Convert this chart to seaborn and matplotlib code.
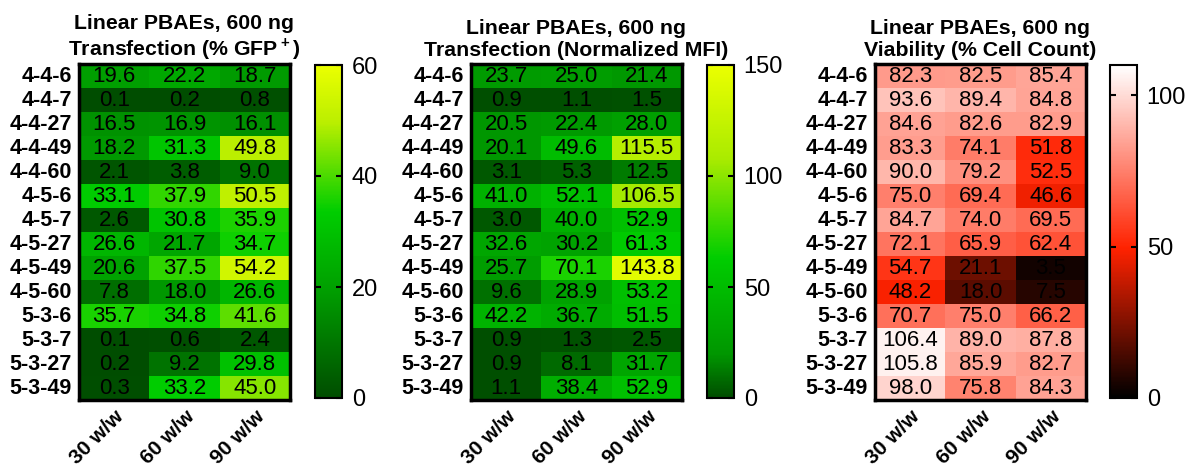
import matplotlib
matplotlib.use("Agg")
import matplotlib.pyplot as plt
import numpy as np
import pandas as pd
import seaborn as sns
from matplotlib.colors import LinearSegmentedColormap

polymers = ["4-4-6", "4-4-7", "4-4-27", "4-4-49", "4-4-60", "4-5-6", "4-5-7",
            "4-5-27", "4-5-49", "4-5-60", "5-3-6", "5-3-7", "5-3-27", "5-3-49"]
ratios = ["30 w/w", "60 w/w", "90 w/w"]

gfp_30 = [19.6, 0.1, 16.5, 18.2, 2.1, 33.1, 2.6, 26.6, 20.6, 7.8, 35.7, 0.1, 0.2, 0.3]
gfp_60 = [22.2, 0.2, 16.9, 31.3, 3.8, 37.9, 30.8, 21.7, 37.5, 18.0, 34.8, 0.6, 9.2, 33.2]
gfp_90 = [18.7, 0.8, 16.1, 49.8, 9.0, 50.5, 35.9, 34.7, 54.2, 26.6, 41.6, 2.4, 29.8, 45.0]

mfi_30 = [23.7, 0.9, 20.5, 20.1, 3.1, 41.0, 3.0, 32.6, 25.7, 9.6, 42.2, 0.9, 0.9, 1.1]
mfi_60 = [25.0, 1.1, 22.4, 49.6, 5.3, 52.1, 40.0, 30.2, 70.1, 28.9, 36.7, 1.3, 8.1, 38.4]
mfi_90 = [21.4, 1.5, 28.0, 115.5, 12.5, 106.5, 52.9, 61.3, 143.8, 53.2, 51.5, 2.5, 31.7, 52.9]

via_30 = [82.3, 93.6, 84.6, 83.3, 90.0, 75.0, 84.7, 72.1, 54.7, 48.2, 70.7, 106.4, 105.8, 98.0]
via_60 = [82.5, 89.4, 82.6, 74.1, 79.2, 69.4, 74.0, 65.9, 21.1, 18.0, 75.0, 89.0, 85.9, 75.8]
via_90 = [85.4, 84.8, 82.9, 51.8, 52.5, 46.6, 69.5, 62.4, 3.5, 7.5, 66.2, 87.8, 82.7, 84.3]

greens_gfp = LinearSegmentedColormap.from_list(
    "gfp", [(0, "#004d00"), (0.33, "#00a000"), (0.56, "#00cd00"),
            (0.83, "#bbef00"), (1, "#ebff00")])
greens_mfi = LinearSegmentedColormap.from_list(
    "mfi", [(0, "#004d00"), (0.13, "#009600"), (0.42, "#00cd00"),
            (0.72, "#aaeb00"), (1, "#ebff00")])
reds = LinearSegmentedColormap.from_list(
    "via", [(0, "#000000"), (0.45, "#ff2200"), (1, "#ffffff")])

panels = [
    ("Linear PBAEs, 600 ng\nTransfection (% GFP$^{\\bf +}$)", [gfp_30, gfp_60, gfp_90],
     greens_gfp, 60, [0, 20, 40, 60]),
    ("Linear PBAEs, 600 ng\nTransfection (Normalized MFI)", [mfi_30, mfi_60, mfi_90],
     greens_mfi, 150, [0, 50, 100, 150]),
    ("Linear PBAEs, 600 ng\nViability (% Cell Count)", [via_30, via_60, via_90],
     reds, 110, [0, 50, 100]),
]

plt.rcParams["font.family"] = ["Liberation Sans", "DejaVu Sans"]
plt.rcParams["mathtext.fontset"] = "custom"
plt.rcParams["mathtext.bf"] = "Liberation Sans:bold"
plt.rcParams["mathtext.rm"] = "Liberation Sans"
fig = plt.figure(figsize=(11.87, 4.72), dpi=100)

W, H = 1187, 472
hm_left = [79, 471, 875]
cb_left = [315, 707, 1110]
top, bottom = 64, 400

for i, (title, cols, cmap, vmax, cticks) in enumerate(panels):
    ax = fig.add_axes([hm_left[i] / W, 1 - bottom / H, 211 / W, (bottom - top) / H])
    cax = fig.add_axes([cb_left[i] / W, 1 - 398 / H, 27 / W, (398 - 65) / H])
    df = pd.DataFrame(np.array(cols).T, index=polymers, columns=ratios)
    sns.heatmap(df, ax=ax, cmap=cmap, vmin=0, vmax=vmax, annot=True, fmt=".1f",
                annot_kws={"color": "black", "fontsize": 16}, cbar_ax=cax)
    ax.set_title(title, fontsize=15.3, fontweight="bold", pad=6, linespacing=1.15)
    ax.tick_params(length=0, pad=5)
    ax.set_yticklabels(ax.get_yticklabels(), rotation=0, fontsize=15.5, fontweight="bold")
    ax.set_xticklabels(ax.get_xticklabels(), rotation=45, ha="right",
                       rotation_mode="anchor", fontsize=15, fontweight="bold")
    ax.tick_params(axis="x", pad=5)
    for s in ax.spines.values():
        s.set_visible(True)
        s.set_linewidth(2.5)
        s.set_color("black")
    cbar = ax.collections[0].colorbar
    cbar.set_ticks(cticks)
    cbar.outline.set_linewidth(1.5)
    cax.tick_params(labelsize=17, direction="in", left=True, right=True,
                    length=4, width=1.5, pad=7)

fig.savefig("out.png", dpi=100)
